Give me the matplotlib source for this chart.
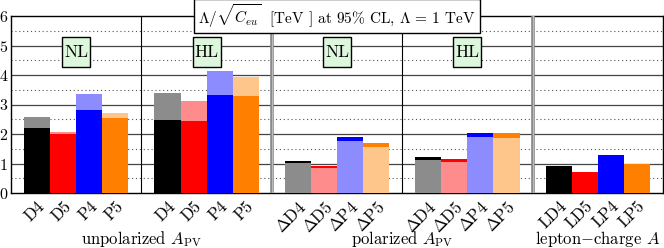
import numpy as np
import matplotlib
matplotlib.use("Agg")
import matplotlib.pyplot as plt
from matplotlib.patches import Rectangle
from matplotlib.transforms import blended_transform_factory

plt.rcParams['font.family'] = 'serif'
plt.rcParams['font.serif'] = ['cmr10']
plt.rcParams['mathtext.fontset'] = 'cm'
plt.rcParams['axes.formatter.use_mathtext'] = True

# bar labels per group
labels_unpol = ['D4', 'D5', 'P4', 'P5']
labels_pol = [r'$\Delta$D4', r'$\Delta$D5', r'$\Delta$P4', r'$\Delta$P5']
labels_lep = ['LD4', 'LD5', 'LP4', 'LP5']

# unpolarized A_PV: dark = lower value, light = upper value
unpol_nl_dark = [2.19, 1.99, 2.81, 2.55]
unpol_nl_light = [2.59, 2.07, 3.36, 2.70]
unpol_hl_dark = [2.47, 2.45, 3.32, 3.29]
unpol_hl_light = [3.38, 3.13, 4.14, 3.94]

# polarized A_PV: light = lower value, dark = upper value
pol_nl_light = [1.01, 0.84, 1.75, 1.56]
pol_nl_dark = [1.07, 0.93, 1.90, 1.70]
pol_hl_light = [1.11, 1.04, 1.89, 1.86]
pol_hl_dark = [1.21, 1.16, 2.04, 2.02]

# lepton-charge asymmetry
lep_vals = [0.93, 0.72, 1.28, 0.97]

dark_cols = ['#000000', '#ff0000', '#0000ff', '#ff8000']
light_cols = ['#8c8c8c', '#ff8c8c', '#8c8cff', '#ffc68c']

fig = plt.figure(figsize=(6.64, 2.48), dpi=100)
ax = fig.add_axes([11/664, 55/248, 652/664, 177/248])


def draw_group(k, dark, light):
    x = np.arange(1, 5) + 5 * k
    for i in range(4):
        pairs = [(dark[i], dark_cols[i])]
        if light is not None:
            pairs.append((light[i], light_cols[i]))
        # draw the larger one first, smaller on top
        for v, c in sorted(pairs, key=lambda p: -p[0]):
            ax.bar(x[i], v, width=1.0, color=c, zorder=3, linewidth=0)


draw_group(0, unpol_nl_dark, unpol_nl_light)
draw_group(1, unpol_hl_dark, unpol_hl_light)
draw_group(2, pol_nl_dark, pol_nl_light)
draw_group(3, pol_hl_dark, pol_hl_light)
draw_group(4, lep_vals, None)

ax.set_xlim(0, 25)
ax.set_ylim(0, 6)

# grid
for y in range(1, 6):
    ax.axhline(y, color='#444444', lw=0.9, zorder=1)
for y in np.arange(0.5, 6, 1.0):
    ax.axhline(y, color='#555555', lw=0.8, ls=(0, (1, 2.5)), zorder=1)

# group separators
ax.axvline(5, color='black', lw=0.8, zorder=4)
ax.axvline(15, color='black', lw=0.8, zorder=4)
for xs in (10, 20):
    ax.axvline(xs, color='#888888', lw=2.6, zorder=4)
    ax.axvline(xs, color='#bbbbbb', lw=0.8, zorder=4)

xt = np.concatenate([np.arange(1, 5) + 5 * k for k in range(5)])
ax.set_xticks(xt)
ax.set_xticklabels(labels_unpol * 2 + labels_pol * 2 + labels_lep,
                   rotation=45, ha='right', rotation_mode='anchor', fontsize=12)
ax.tick_params(axis='x', direction='in', length=3, pad=4)
ax.set_yticks(range(0, 7))
ax.tick_params(axis='y', length=0, pad=2, labelsize=11.5)
for s in ax.spines.values():
    s.set_linewidth(1.0)

# NL / HL tags
for xc, t in [(2.5, 'NL'), (7.5, 'HL'), (12.5, 'NL'), (17.5, 'HL')]:
    ax.add_patch(Rectangle((xc - 0.54, 4.27), 1.08, 1.02, fc='#ddf7dd', ec='black',
                           lw=1.0, zorder=5))
    ax.text(xc, 4.78, t, ha='center', va='center', fontsize=12.5, zorder=6)

# title box
ax.text(0.5, 1.0, r'$\Lambda/\sqrt{C_{eu}}$  [TeV ] at 95% CL, $\Lambda$ = 1 TeV',
        transform=ax.transAxes, ha='center', va='center', fontsize=11,
        bbox=dict(boxstyle='square,pad=0.25', fc='white', ec='black', lw=1.0),
        zorder=6, clip_on=False)

# group labels
tr = blended_transform_factory(ax.transData, ax.transAxes)
ax.text(5, -0.29, r'unpolarized $A_{\rm PV}$', transform=tr, ha='center', va='baseline', fontsize=12)
ax.text(15, -0.29, r'polarized $A_{\rm PV}$', transform=tr, ha='center', va='baseline', fontsize=12)
ax.text(22.5, -0.29, r'lepton$-$charge $A$', transform=tr, ha='center', va='baseline', fontsize=12)

fig.savefig('out.png', dpi=100)
